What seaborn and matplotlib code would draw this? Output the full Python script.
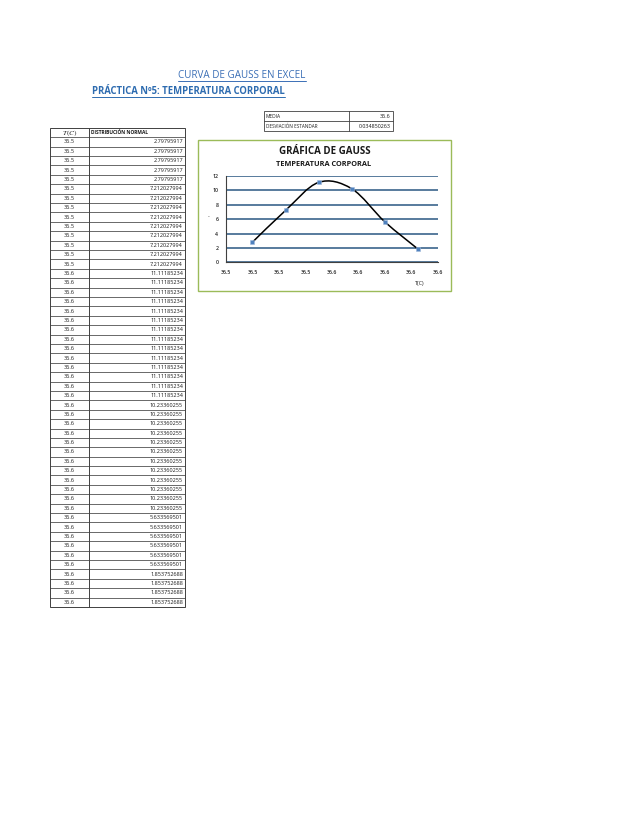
import numpy as np
import seaborn as sns
import matplotlib
matplotlib.use("Agg")
import matplotlib.pyplot as plt
from matplotlib.path import Path
from matplotlib.patches import PathPatch, Rectangle

# data read from the spreadsheet
temps = [36.500, 36.525, 36.550, 36.575, 36.600, 36.625]
densities = [2.79795917, 7.212027994, 11.11185234, 10.23360255, 5.633569501, 1.853752688]
counts = [5, 9, 14, 12, 6, 4]
x_ticks = [36.48, 36.50, 36.52, 36.54, 36.56, 36.58, 36.60, 36.62, 36.64]
y_ticks = [0, 2, 4, 6, 8, 10, 12]

title = "CURVA DE GAUSS EN EXCEL"
subtitle = "PRÁCTICA Nº5: TEMPERATURA CORPORAL"
chart_title = "GRÁFICA DE GAUSS"
chart_subtitle = "TEMPERATURA CORPORAL"

sns.set_style("white")
plt.rcParams["font.family"] = ["Open Sans", "DejaVu Sans"]
plt.rcParams["mathtext.fontset"] = "stix"
small = "Open Sans"

BLUE = "#3b6fb6"
GRID = "#2a5783"
GREEN = "#9bbb59"
LINE = "#404040"
TXT = "#1a1a1a"


def fmt1(v):
    # excel style round half up for display
    return f"{np.floor(v * 10 + 0.5 + 1e-9) / 10:.1f}"


def smooth_path(xs, ys):
    """Bezier path through the points, like excel's smoothed line"""
    pts = np.column_stack([xs, ys])
    ext = np.vstack([pts[0], pts, pts[-1]])
    verts = [pts[0]]
    codes = [Path.MOVETO]
    for i in range(len(pts) - 1):
        p0, p1, p2, p3 = ext[i], ext[i + 1], ext[i + 2], ext[i + 3]
        verts += [p1 + (p2 - p0) / 6, p2 - (p3 - p1) / 6, p2]
        codes += [Path.CURVE4] * 3
    return Path(verts, codes)


W, H = 638, 826
fig = plt.figure(figsize=(W / 100, H / 100), dpi=100)
fig.patch.set_facecolor("white")

# page axes in pixel coordinates
page = fig.add_axes([0, 0, 1, 1])
page.set_xlim(0, W)
page.set_ylim(H, 0)
page.axis("off")

t1 = page.text(242, 75, title, ha="center", va="center", fontsize=7.1, color=BLUE)
t2 = page.text(92, 91, subtitle, ha="left", va="center", fontsize=6.85, color="#2e6cb0", fontweight="bold")

# media / desviacion table
rows = np.repeat(temps, counts)
vals = np.repeat(densities, counts)
media = fmt1(np.mean(rows))
desv = f"{np.std(rows, ddof=1):.9f}"
mt_left, mt_mid, mt_right, mt_top, mt_h = 264, 349, 393, 111, 10
page.add_patch(Rectangle((mt_left, mt_top), mt_right - mt_left, 2 * mt_h, fill=False, ec=LINE, lw=0.6))
page.plot([mt_mid, mt_mid], [mt_top, mt_top + 2 * mt_h], color=LINE, lw=0.6)
page.plot([mt_left, mt_right], [mt_top + mt_h, mt_top + mt_h], color=LINE, lw=0.6)
page.text(mt_left + 2, mt_top + mt_h / 2, "MEDIA", ha="left", va="center", fontsize=3.5, family=small, color=TXT)
page.text(mt_right - 2, mt_top + mt_h / 2, media, ha="right", va="center", fontsize=3.9, family=small, color=TXT)
page.text(mt_left + 2, mt_top + 1.5 * mt_h, "DESVIACIÓN ESTANDAR", ha="left", va="center", fontsize=3.3,
          family=small, color=TXT)
page.text(mt_right - 2, mt_top + 1.5 * mt_h, desv, ha="right", va="center", fontsize=3.9, family=small, color=TXT)

# data table
tl, tm, tr = 50, 89, 185
head_top, head_bot = 128.3, 137.3
row_h = (607 - head_bot) / len(rows)
bottom = head_bot + row_h * len(rows)
page.add_patch(Rectangle((tl, head_top), tr - tl, bottom - head_top, fill=False, ec=LINE, lw=0.7))
page.plot([tm, tm], [head_top, bottom], color=LINE, lw=0.7)
page.text((tl + tm) / 2, (head_top + head_bot) / 2 + 0.3, "$T(C)$", ha="center", va="center", fontsize=5.2)
page.text(tm + 2, (head_top + head_bot) / 2, "DISTRIBUCIÓN NORMAL", ha="left", va="center",
          fontsize=3.5, family=small, fontweight="bold", color=TXT)
for i, (t, v) in enumerate(zip(rows, vals)):
    y0 = head_bot + i * row_h
    page.plot([tl, tr], [y0, y0], color=LINE, lw=0.55)
    page.text((tl + tm) / 2, y0 + row_h / 2, fmt1(t), ha="center", va="center", fontsize=4.0,
              family=small, color=TXT)
    page.text(tr - 2, y0 + row_h / 2, f"{v:.10g}", ha="right", va="center", fontsize=4.0,
              family=small, color=TXT)

# chart frame and titles
page.add_patch(Rectangle((198, 140), 451 - 198, 291 - 140, fill=False, ec=GREEN, lw=1.0))
page.text(325, 152, chart_title, ha="center", va="center", fontsize=7.0, fontweight="bold", color=TXT)
page.text(324, 164.5, chart_subtitle, ha="center", va="center", fontsize=5.3, fontweight="bold", color=TXT)
page.text(420, 283.5, "T(C)", ha="center", va="center", fontsize=3.9, family=small, color=TXT)

# chart axes
px_l, px_r, px_t, px_b = 226, 437.7, 176, 262.3
ax = fig.add_axes([px_l / W, 1 - px_b / H, (px_r - px_l) / W, (px_b - px_t) / H])
ax.set_facecolor("none")
ax.set_xlim(x_ticks[0], x_ticks[-1])
ax.set_ylim(y_ticks[0], y_ticks[-1])
ax.set_xticks(x_ticks)
ax.set_xticklabels([fmt1(v) for v in x_ticks], fontsize=3.7, family=small, fontweight="semibold")
ax.set_yticks(y_ticks)
ax.set_yticklabels([str(v) for v in y_ticks], fontsize=3.7, family=small, fontweight="semibold")
ax.yaxis.grid(True, color=GRID, lw=1.1)
ax.set_axisbelow(True)
for s in ["top", "right"]:
    ax.spines[s].set_visible(False)
ax.spines["left"].set_color("#404040")
ax.spines["bottom"].set_color("#404040")
ax.spines["left"].set_linewidth(0.8)
ax.spines["bottom"].set_linewidth(0.8)
ax.tick_params(axis="both", length=2.5, width=0.6, pad=3, colors="#202020")

ax.add_patch(PathPatch(smooth_path(temps, densities), fill=False, ec="black", lw=1.1, zorder=3))
sns.scatterplot(x=temps, y=densities, ax=ax, marker="s", s=7, color="#4f81bd",
                edgecolor="#9fb9dc", linewidth=0.4, zorder=4)
ax.set_xlabel("")
ax.set_ylabel("-", fontsize=4, rotation=0, labelpad=3)

# underline the page titles
fig.canvas.draw()
inv = page.transData.inverted()
for t in (t1, t2):
    bb = t.get_window_extent()
    (x0, y0), (x1, y1) = inv.transform([(bb.x0, bb.y0), (bb.x1, bb.y1)])
    page.plot([x0, x1], [y0 + 0.3, y0 + 0.3], color=t.get_color(), lw=0.7)

fig.savefig("out.png", dpi=100, facecolor="white")
